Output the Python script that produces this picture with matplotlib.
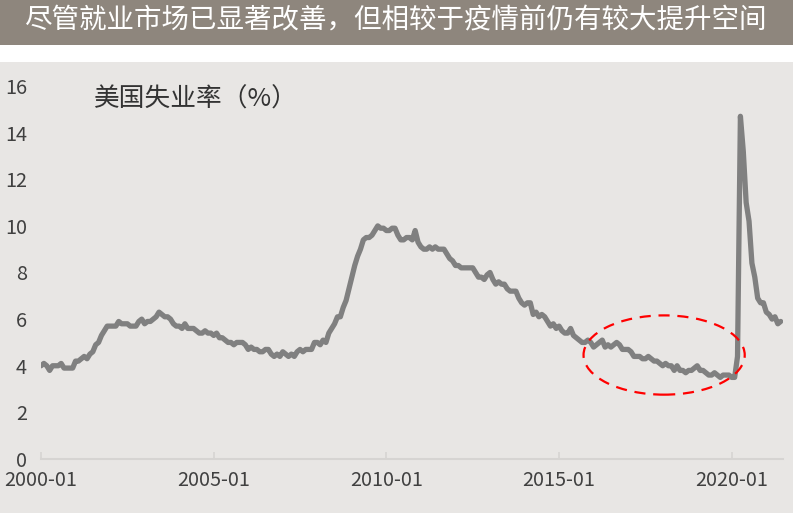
import matplotlib
matplotlib.use("Agg")
import matplotlib.pyplot as plt
from matplotlib.patches import Ellipse, Rectangle
import numpy as np

plt.rcParams['font.family'] = ['Noto Sans CJK SC', 'DejaVu Sans']

title = "尽管就业市场已显著改善，但相较于疫情前仍有较大提升空间"
series_label = "美国失业率（%）"
tick_labels = ["2000-01", "2005-01", "2010-01", "2015-01", "2020-01"]
tick_months = [0, 60, 120, 180, 240]

unrate = [
    4.0, 4.1, 4.0, 3.8, 4.0, 4.0, 4.0, 4.1, 3.9, 3.9, 3.9, 3.9,
    4.2, 4.2, 4.3, 4.4, 4.3, 4.5, 4.6, 4.9, 5.0, 5.3, 5.5, 5.7,
    5.7, 5.7, 5.7, 5.9, 5.8, 5.8, 5.8, 5.7, 5.7, 5.7, 5.9, 6.0,
    5.8, 5.9, 5.9, 6.0, 6.1, 6.3, 6.2, 6.1, 6.1, 6.0, 5.8, 5.7,
    5.7, 5.6, 5.8, 5.6, 5.6, 5.6, 5.5, 5.4, 5.4, 5.5, 5.4, 5.4,
    5.3, 5.4, 5.2, 5.2, 5.1, 5.0, 5.0, 4.9, 5.0, 5.0, 5.0, 4.9,
    4.7, 4.8, 4.7, 4.7, 4.6, 4.6, 4.7, 4.7, 4.5, 4.4, 4.5, 4.4,
    4.6, 4.5, 4.4, 4.5, 4.4, 4.6, 4.7, 4.6, 4.7, 4.7, 4.7, 5.0,
    5.0, 4.9, 5.1, 5.0, 5.4, 5.6, 5.8, 6.1, 6.1, 6.5, 6.8, 7.3,
    7.8, 8.3, 8.7, 9.0, 9.4, 9.5, 9.5, 9.6, 9.8, 10.0, 9.9, 9.9,
    9.8, 9.8, 9.9, 9.9, 9.6, 9.4, 9.4, 9.5, 9.5, 9.4, 9.8, 9.3,
    9.1, 9.0, 9.0, 9.1, 9.0, 9.1, 9.0, 9.0, 9.0, 8.8, 8.6, 8.5,
    8.3, 8.3, 8.2, 8.2, 8.2, 8.2, 8.2, 8.0, 7.8, 7.8, 7.7, 7.9,
    8.0, 7.7, 7.5, 7.6, 7.5, 7.5, 7.3, 7.2, 7.2, 7.2, 6.9, 6.7,
    6.6, 6.7, 6.7, 6.2, 6.3, 6.1, 6.2, 6.1, 5.9, 5.7, 5.8, 5.6,
    5.7, 5.5, 5.4, 5.4, 5.6, 5.3, 5.2, 5.1, 5.0, 5.0, 5.1, 5.0,
    4.8, 4.9, 5.0, 5.1, 4.8, 4.9, 4.8, 4.9, 5.0, 4.9, 4.7, 4.7,
    4.7, 4.6, 4.4, 4.4, 4.4, 4.3, 4.3, 4.4, 4.3, 4.2, 4.2, 4.1,
    4.0, 4.1, 4.0, 4.0, 3.8, 4.0, 3.8, 3.8, 3.7, 3.8, 3.8, 3.9,
    4.0, 3.8, 3.8, 3.7, 3.6, 3.6, 3.7, 3.6, 3.5, 3.6, 3.6, 3.6,
    3.5, 3.5, 4.4, 14.7, 13.2, 11.0, 10.2, 8.4, 7.8, 6.9, 6.7, 6.7,
    6.3, 6.2, 6.0, 6.1, 5.8, 5.9,
]
months = np.arange(len(unrate))

W, H = 793, 513
fig = plt.figure(figsize=(W / 100, H / 100), dpi=100)
fig.patch.set_facecolor("white")
bg = "#E8E6E4"
fig.patches.append(Rectangle((0, 0), 1, (H - 62) / H, transform=fig.transFigure,
                             facecolor=bg, edgecolor="none", zorder=-10))
fig.patches.append(Rectangle((0, (H - 45) / H), 1, 45 / H, transform=fig.transFigure,
                             facecolor="#8E867D", edgecolor="none", zorder=-10))
fig.text(0.5, (H - 21) / H, title, color="white", fontsize=19.8,
         ha="center", va="center")

ax = fig.add_axes([41 / W, (H - 459) / H, (783 - 41) / W, (459 - 86) / H])
ax.set_facecolor("none")
ax.plot(months, unrate, color="#808080", lw=3.8, solid_joinstyle="round",
        solid_capstyle="round", zorder=3)

ax.set_xlim(0, 257.8)
ax.set_ylim(0, 16)
ax.set_yticks(np.arange(0, 17, 2))
ax.set_xticks(tick_months)
ax.set_xticklabels(tick_labels)
for s in ["top", "right", "left"]:
    ax.spines[s].set_visible(False)
ax.spines["bottom"].set_color("#D6D4D2")
ax.spines["bottom"].set_linewidth(1.5)
ax.tick_params(axis="x", direction="in", length=5, width=1.2, color="#D6D4D2",
               labelsize=14.3, labelcolor="#404040", pad=8)
ax.tick_params(axis="y", length=0, labelsize=14.3, labelcolor="#404040", pad=10)

ax.text((94 - 41) / 742, (459 - 100) / 373, series_label, fontsize=18.5,
        color="#333333", ha="left", va="center", transform=ax.transAxes)

ell = Ellipse((216.5, 4.46), 56, 3.4, fill=False, edgecolor="red", lw=1.6,
              linestyle=(0, (5, 3.5)), zorder=4)
ax.add_patch(ell)

fig.savefig("out.png", dpi=100, facecolor=fig.get_facecolor())
